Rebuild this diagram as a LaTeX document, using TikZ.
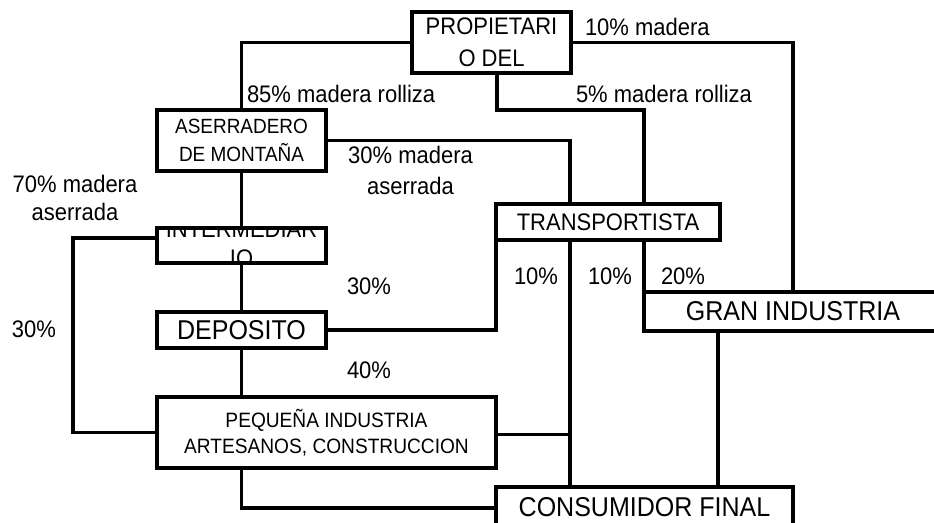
\documentclass[tikz,border=0pt]{standalone}
\usepackage{fontspec}
\setmainfont{Liberation Sans}[FakeStretch=0.92]
\newcommand\myfs[2]{\fontsize{#1}{#2}\selectfont}
\tikzset{
  box/.style={draw, line width=3.2pt, inner sep=0pt, outer sep=0pt, align=center, fill=white},
  conn/.style={line width=3.2pt},
  lbl/.style={inner sep=0pt, outer sep=0pt},
}
\begin{document}
\begin{tikzpicture}[x=1pt, y=-1pt]
\useasboundingbox (0,0) rectangle (934,522);
\fill[white] (0,0) rectangle (934,522);
\clip (0,0) rectangle (934,522);

% boxes
\node[box, minimum width=159, minimum height=61, font=\myfs{23.9}{32}] (prop) at (491.5,42.5) {PROPIETARI\\O DEL};
\node[box, minimum width=169, minimum height=61, font=\myfs{20.6}{28}] (aser) at (241.5,140.5) {ASERRADERO\\DE MONTAÑA};
\node[box, minimum width=169, minimum height=35,
  path picture={\node[align=center, inner sep=0pt, font=\myfs{23.9}{29}] at ([yshift=2pt]path picture bounding box.center) {INTERMEDIAR\\IO};}] (inter) at (241.5,245.5) {};
\node[box, minimum width=169, minimum height=36, font=\myfs{27.2}{30}] (dep) at (241.5,330) {DEPOSITO};
\node[box, minimum width=339, minimum height=71, font=\myfs{20.8}{26}] (peq) at (326.5,432.5) {PEQUEÑA INDUSTRIA\\ARTESANOS, CONSTRUCCION};
\node[box, minimum width=224, minimum height=36, font=\myfs{23.9}{26}] (tr) at (608,222) {TRANSPORTISTA};
\node[box, minimum width=298, minimum height=39, font=\myfs{27.2}{30}] (gi) at (793,311.5) {GRAN INDUSTRIA};
\node[box, minimum width=297, minimum height=40, font=\myfs{27.2}{30}] (cf) at (644.5,507) {CONSUMIDOR FINAL};

% helper coordinates
\coordinate (k5) at (644,110);
\coordinate (k30) at (570,140.5);
\coordinate (kl) at (73,238);
\coordinate (kg) at (718,0);

% connectors
\draw[conn] (prop.west) -| (aser.north);
\draw[conn] ([xshift=5.5pt]prop.south) |- (k5) -- (k5 |- tr.north);
\draw[conn] (prop.east) -| (gi.north);
\draw[conn] (aser.east) -- (k30) -- (k30 |- tr.north);
\draw[conn] (tr.south -| k30) -- (cf.north -| k30);
\draw[conn] ([yshift=-2pt]peq.east) -- ([yshift=-2pt]peq.east -| k30);
\draw[conn] (aser.south) -- (inter.north);
\draw[conn] (inter.south) -- (dep.north);
\draw[conn] (dep.south) -- (dep.south |- peq.north);
\draw[conn] ([yshift=7.5pt]inter.west) -- (kl) |- (peq.west);
\draw[conn] (dep.east) -| (tr.south west);
\draw[conn] (tr.south -| gi.west) -- (gi.north west);
\draw[conn] (gi.south -| kg) -- (cf.north -| kg);
\draw[conn] (peq.south -| aser.south) |- ([yshift=-1pt]cf.west);

% labels
\node[lbl, anchor=base west, font=\myfs{23.9}{26}] (l85) at (247,102) {85\% madera rolliza};
\node[lbl, anchor=base west, font=\myfs{23.9}{26}] (l10m) at (585,35) {10\% madera};
\node[lbl, anchor=base west, font=\myfs{23.9}{26}] (l5) at (576,102) {5\% madera rolliza};
\node[lbl, align=center, font=\myfs{23.9}{31}] (l30ma) at (410.5,170.5) {30\% madera\\aserrada};
\node[lbl, align=center, font=\myfs{23.9}{28}] (l70ma) at (75,198) {70\% madera\\aserrada};
\node[lbl, anchor=base west, font=\myfs{23.9}{26}] (l30m) at (347,294) {30\%};
\node[lbl, anchor=base west, font=\myfs{23.9}{26}] (la) at (514,284) {10\%};
\node[lbl, anchor=base west, font=\myfs{23.9}{26}] (lb) at (588,284) {10\%};
\node[lbl, anchor=base west, font=\myfs{23.9}{26}] (lc) at (661,284) {20\%};
\node[lbl, anchor=base west, font=\myfs{23.9}{26}] (l30l) at (12,337) {30\%};
\node[lbl, anchor=base west, font=\myfs{23.9}{26}] (l40) at (347,378) {40\%};
\end{tikzpicture}
\end{document}
